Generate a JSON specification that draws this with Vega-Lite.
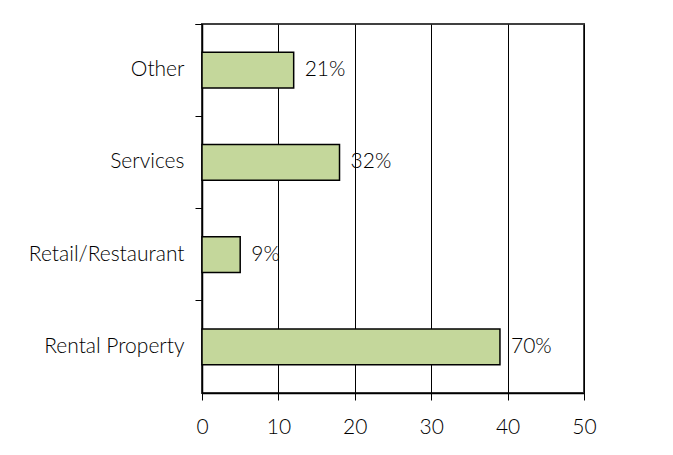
{
  "$schema": "https://vega.github.io/schema/vega-lite/v6.json",
  "autosize": {"type": "none"},
  "padding": {"left": 202, "top": 24, "right": 89, "bottom": 62},
  "width": 382,
  "height": 369,
  "background": "white",
  "data": {"values": [
    {"category": "Other", "value": 12, "label": "21%"},
    {"category": "Services", "value": 18, "label": "32%"},
    {"category": "Retail/Restaurant", "value": 5, "label": "9%"},
    {"category": "Rental Property", "value": 39, "label": "70%"}
  ]},
  "encoding": {
    "y": {
      "field": "category", "type": "nominal", "sort": null,
      "scale": {"paddingInner": 0, "paddingOuter": 0},
      "axis": {
        "title": null, "bandPosition": 0, "tickExtra": true,
        "tickSize": 7, "tickColor": "#000", "tickWidth": 1,
        "domainColor": "#000", "domainWidth": 1.5,
        "labelFont": "Lato", "labelFontSize": 21, "labelFontWeight": 300, "labelColor": "#000",
        "labelPadding": 11, "grid": false, "labelLimit": 300
      }
    },
    "x": {
      "field": "value", "type": "quantitative",
      "scale": {"domain": [0, 50], "nice": false},
      "axis": {
        "title": null, "values": [0, 10, 20, 30, 40, 50],
        "tickSize": 7, "tickColor": "#000", "tickWidth": 1,
        "domainColor": "#000", "domainWidth": 1.5,
        "grid": true, "gridColor": "#000", "gridWidth": 1, "gridOpacity": 1,
        "labelFont": "Lato", "labelFontSize": 21, "labelFontWeight": 300, "labelColor": "#000",
        "labelPadding": 16, "labelFlush": false
      }
    }
  },
  "layer": [
    {
      "mark": {"type": "bar", "height": {"band": 0.39}, "fill": "#C4D79B", "stroke": "#000", "strokeWidth": 1.5}
    },
    {
      "mark": {"type": "text", "align": "left", "baseline": "middle", "dx": 11, "font": "Lato", "fontSize": 21, "fontWeight": 300, "color": "#000"},
      "encoding": {"text": {"field": "label"}}
    }
  ],
  "config": {
    "view": {"stroke": "#404040", "strokeWidth": 2}
  }
}
